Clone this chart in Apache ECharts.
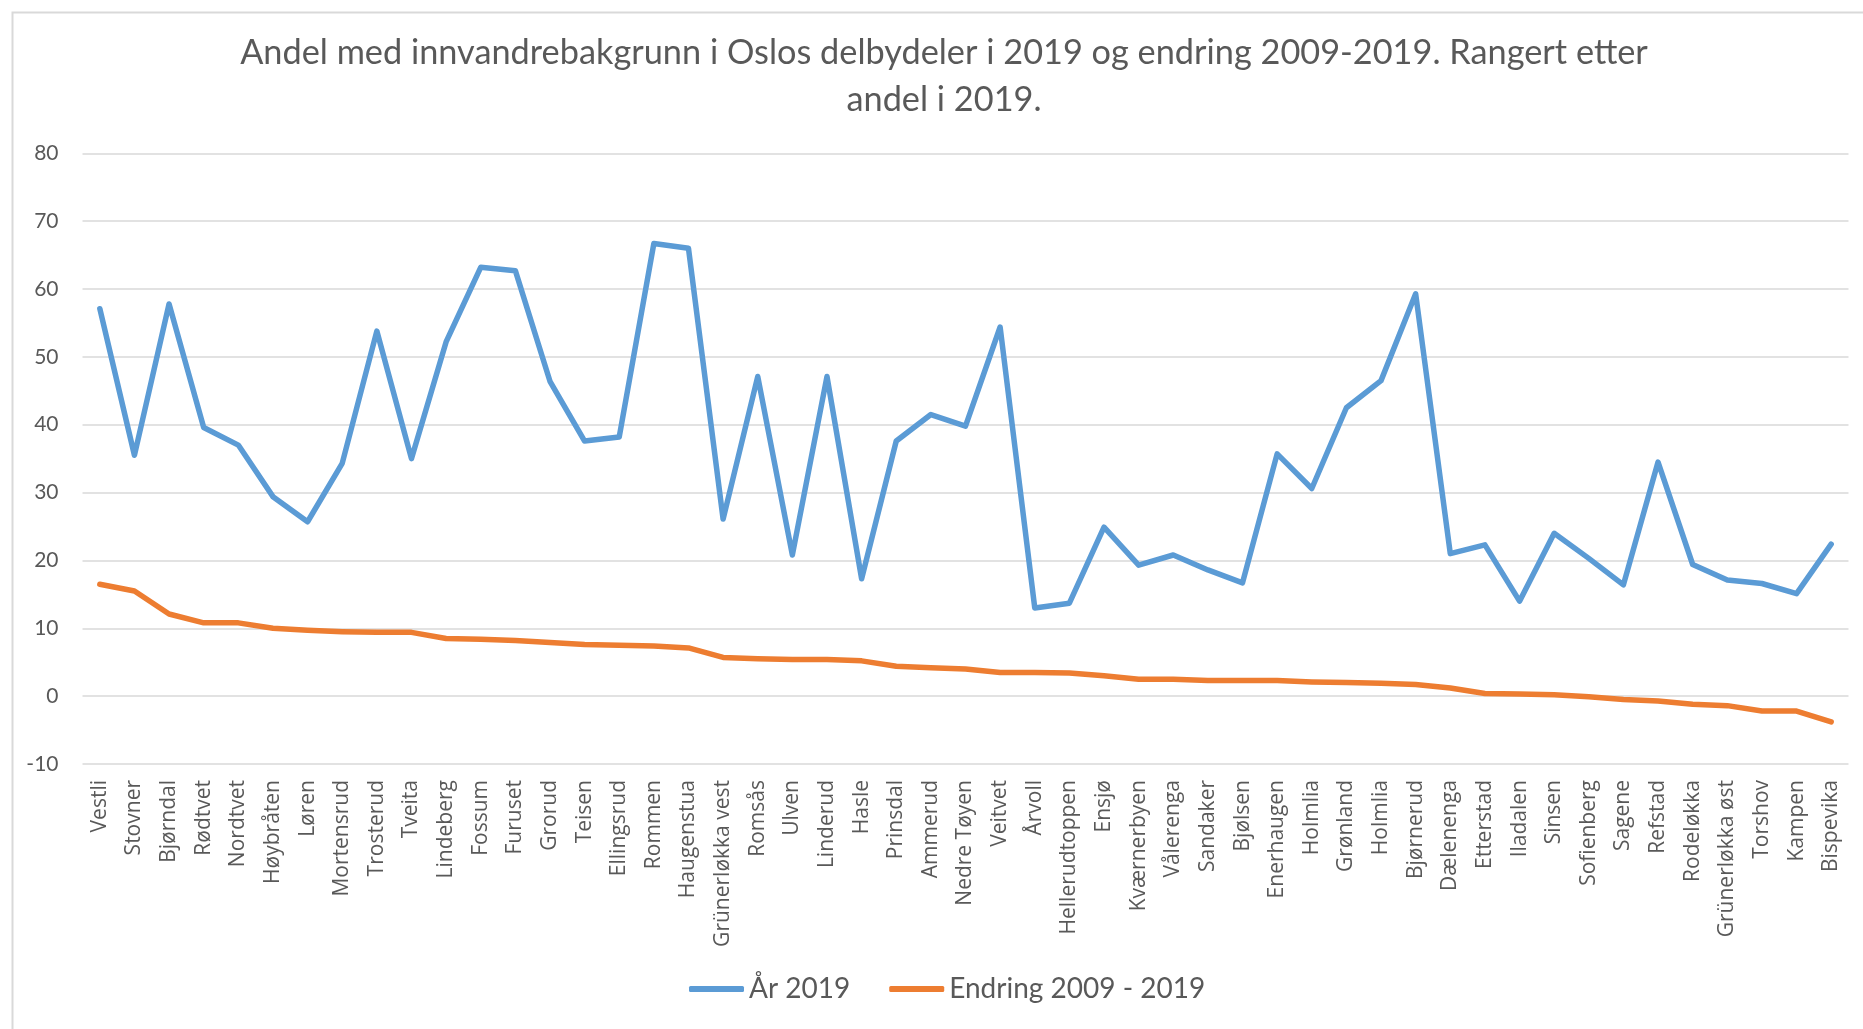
<!DOCTYPE html>
<html>
<head>
<meta charset="utf-8">
<script src="https://cdn.jsdelivr.net/npm/echarts@6/dist/echarts.min.js"></script>
<style>
html,body{margin:0;padding:0;background:#fff;}
#chart{width:1863px;height:1029px;}
</style>
</head>
<body>
<div id="chart"></div>
<script>
const titleText = "Andel med innvandrebakgrunn i Oslos delbydeler i 2019 og endring 2009-2019. Rangert etter\nandel i 2019.";
const categories = ["Vestli","Stovner","Bjørndal","Rødtvet","Nordtvet","Høybråten","Løren","Mortensrud","Trosterud","Tveita","Lindeberg","Fossum","Furuset","Grorud","Teisen","Ellingsrud","Rommen","Haugenstua","Grünerløkka vest","Romsås","Ulven","Linderud","Hasle","Prinsdal","Ammerud","Nedre Tøyen","Veitvet","Årvoll","Hellerudtoppen","Ensjø","Kværnerbyen","Vålerenga","Sandaker","Bjølsen","Enerhaugen","Holmlia","Grønland","Holmlia","Bjørnerud","Dælenenga","Etterstad","Iladalen","Sinsen","Sofienberg","Sagene","Refstad","Rodeløkka","Grünerløkka øst","Torshov","Kampen","Bispevika"];
const seriesNames = ["År 2019", "Endring 2009 - 2019"];
const aar2019 = [57.1,35.5,57.8,39.6,37.0,29.4,25.7,34.3,53.8,35.0,52.2,63.2,62.7,46.4,37.6,38.2,66.7,66.0,26.1,47.1,20.8,47.1,17.3,37.6,41.5,39.8,54.4,13.0,13.7,24.9,19.3,20.8,18.6,16.7,35.7,30.6,42.5,46.5,59.3,21.0,22.3,14.0,24.0,20.3,16.4,34.5,19.4,17.1,16.6,15.1,22.4];
const endring = [16.5,15.5,12.1,10.8,10.8,10.0,9.7,9.5,9.4,9.4,8.5,8.4,8.2,7.9,7.6,7.5,7.4,7.1,5.7,5.5,5.4,5.4,5.2,4.4,4.2,4.0,3.5,3.5,3.4,3.0,2.5,2.5,2.3,2.3,2.3,2.1,2.0,1.9,1.7,1.2,0.4,0.3,0.2,-0.1,-0.5,-0.7,-1.2,-1.4,-2.2,-2.2,-3.8];
const yMin = -10, yMax = 80, yStep = 10;

const chart = echarts.init(document.getElementById('chart'), null, {renderer:'canvas'});
chart.setOption({
  backgroundColor: '#ffffff',
  animation: false,
  graphic: [{
    type: 'rect', left: 10, top: 10, silent: true,
    shape: {x: 0, y: 0, width: 1900, height: 1100},
    style: {fill: 'none', stroke: '#d9d9d9', lineWidth: 2}
  }],
  title: {
    text: titleText,
    left: 944, top: 29, padding: 0, textAlign: 'center',
    textStyle: {fontFamily: 'Lato', fontSize: 34.3, fontWeight: 'normal', color: '#595959', lineHeight: 47}
  },
  legend: {
    data: seriesNames,
    left: 689, top: 975, padding: 0,
    icon: 'roundRect', itemWidth: 55, itemHeight: 6, itemGap: 39,
    textStyle: {fontFamily: 'Lato', fontSize: 28, color: '#595959'}
  },
  grid: {left: 82.5, right: 14.5, top: 153.3, bottom: 265, containLabel: false},
  xAxis: {
    type: 'category', data: categories, boundaryGap: true,
    axisLine: {show: false}, axisTick: {show: false},
    axisLabel: {rotate: 90, interval: 0, margin: 16, fontFamily: 'Open Sans', fontSize: 21, color: '#595959'},
    splitLine: {show: false}
  },
  yAxis: {
    type: 'value', min: yMin, max: yMax, interval: yStep,
    axisLine: {show: false}, axisTick: {show: false},
    axisLabel: {margin: 24, fontFamily: 'Lato', fontSize: 21, color: '#595959'},
    splitLine: {lineStyle: {color: '#d9d9d9', width: 1.5}}
  },
  series: [
    {name: seriesNames[0], type: 'line', data: aar2019, symbol: 'none',
     lineStyle: {color: '#5b9bd5', width: 5.5, join: 'round', cap: 'round'}, itemStyle: {color: '#5b9bd5'}},
    {name: seriesNames[1], type: 'line', data: endring, symbol: 'none',
     lineStyle: {color: '#ed7d31', width: 5.5, join: 'round', cap: 'round'}, itemStyle: {color: '#ed7d31'}}
  ]
});
</script>
</body>
</html>
